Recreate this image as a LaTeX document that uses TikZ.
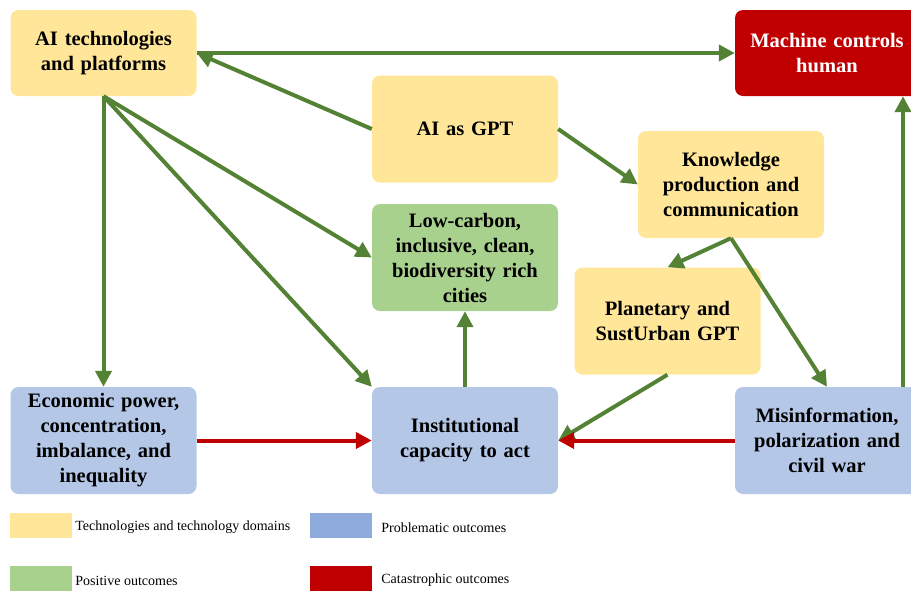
\documentclass[tikz,border=0pt]{standalone}
\usepackage{fontspec}
\setmainfont{Liberation Serif}
\usetikzlibrary{arrows.meta}
\definecolor{techyellow}{HTML}{FFE699}
\definecolor{posgreen}{HTML}{A9D18E}
\definecolor{probblue}{HTML}{B4C7E7}
\definecolor{legblue}{HTML}{8FAADC}
\definecolor{catred}{HTML}{C00000}
\definecolor{arrgreen}{HTML}{548235}
\begin{document}
\begin{tikzpicture}[x=1pt,y=-1pt,
  box/.style={rectangle, rounded corners=8pt, minimum width=186pt, minimum height=107pt,
    text width=180pt, align=center, inner sep=0pt,
    font=\fontsize{20.5}{25}\selectfont\bfseries},
  garrow/.style={-{Triangle[length=16pt,width=16pt]}, line width=4pt, draw=arrgreen},
  rarrow/.style={-{Triangle[length=16pt,width=16pt]}, line width=4pt, draw=catred},
  legbox/.style={rectangle, minimum width=62pt, minimum height=25pt, inner sep=0pt},
  legtext/.style={font=\fontsize{14}{16}\selectfont, inner sep=0pt, anchor=west}]
\useasboundingbox (0,0) rectangle (911,590);
% boxes
\node[box, fill=techyellow, minimum height=86pt] (tech) at (103.5,53) {AI technologies\\and platforms};
\node[box, fill=catred, text=white, minimum width=184pt, minimum height=86pt] (machine) at (827,53) {Machine controls\\human};
\node[box, fill=techyellow] (gpt) at (465,129) {AI as GPT};
\node[box, fill=techyellow] (know) at (731,184.5) {Knowledge\\production and\\communication};
\node[box, fill=posgreen] (low) at (465,257.5) {Low-carbon,\\inclusive, clean,\\biodiversity rich\\cities};
\node[box, fill=techyellow] (plan) at (667.5,321) {Planetary and\\SustUrban GPT};
\node[box, fill=probblue] (econ) at (103.5,440.5) {Economic power,\\concentration,\\imbalance, and\\inequality};
\node[box, fill=probblue] (inst) at (465,440.5) {Institutional\\capacity to act};
\node[box, fill=probblue, minimum width=184pt] (misinfo) at (827,440.5) {Misinformation,\\polarization and\\civil war};
% green arrows
\draw[garrow] (tech.east) -- (machine.west);
\draw[garrow] (gpt.west) -- (tech.east);
\draw[garrow] (tech.south) -- (econ.north);
\draw[garrow] (tech.south) -- (low.west);
\draw[garrow] (tech.south) -- (inst.north west);
\draw[garrow] (gpt.east) -- (know.west);
\draw[garrow] (know.south) -- (plan.north);
\draw[garrow] (know.south) -- (misinfo.north);
\draw[garrow] (plan.south) -- (inst.east);
\draw[garrow] (inst.north) -- (low.south);
\draw[garrow] ([xshift=76pt]misinfo.north) -- ([xshift=76pt]machine.south);
% red arrows
\draw[rarrow] (econ.east) -- (inst.west);
\draw[rarrow] (misinfo.west) -- (inst.east);
% legend
\foreach \c/\t/\x/\y/\g in {techyellow/Technologies and technology domains/10/513/3,
    legblue/Problematic outcomes/310/513/9,
    posgreen/Positive outcomes/10/566/3,
    catred/Catastrophic outcomes/310/566/9}
{
\node[legbox, fill=\c] (l\c) at (\x+31,\y+12.5) {};
\node[legtext] (t\c) at ([xshift=\g pt, yshift=-2pt]l\c.east) {\t};
}
\end{tikzpicture}
\end{document}
